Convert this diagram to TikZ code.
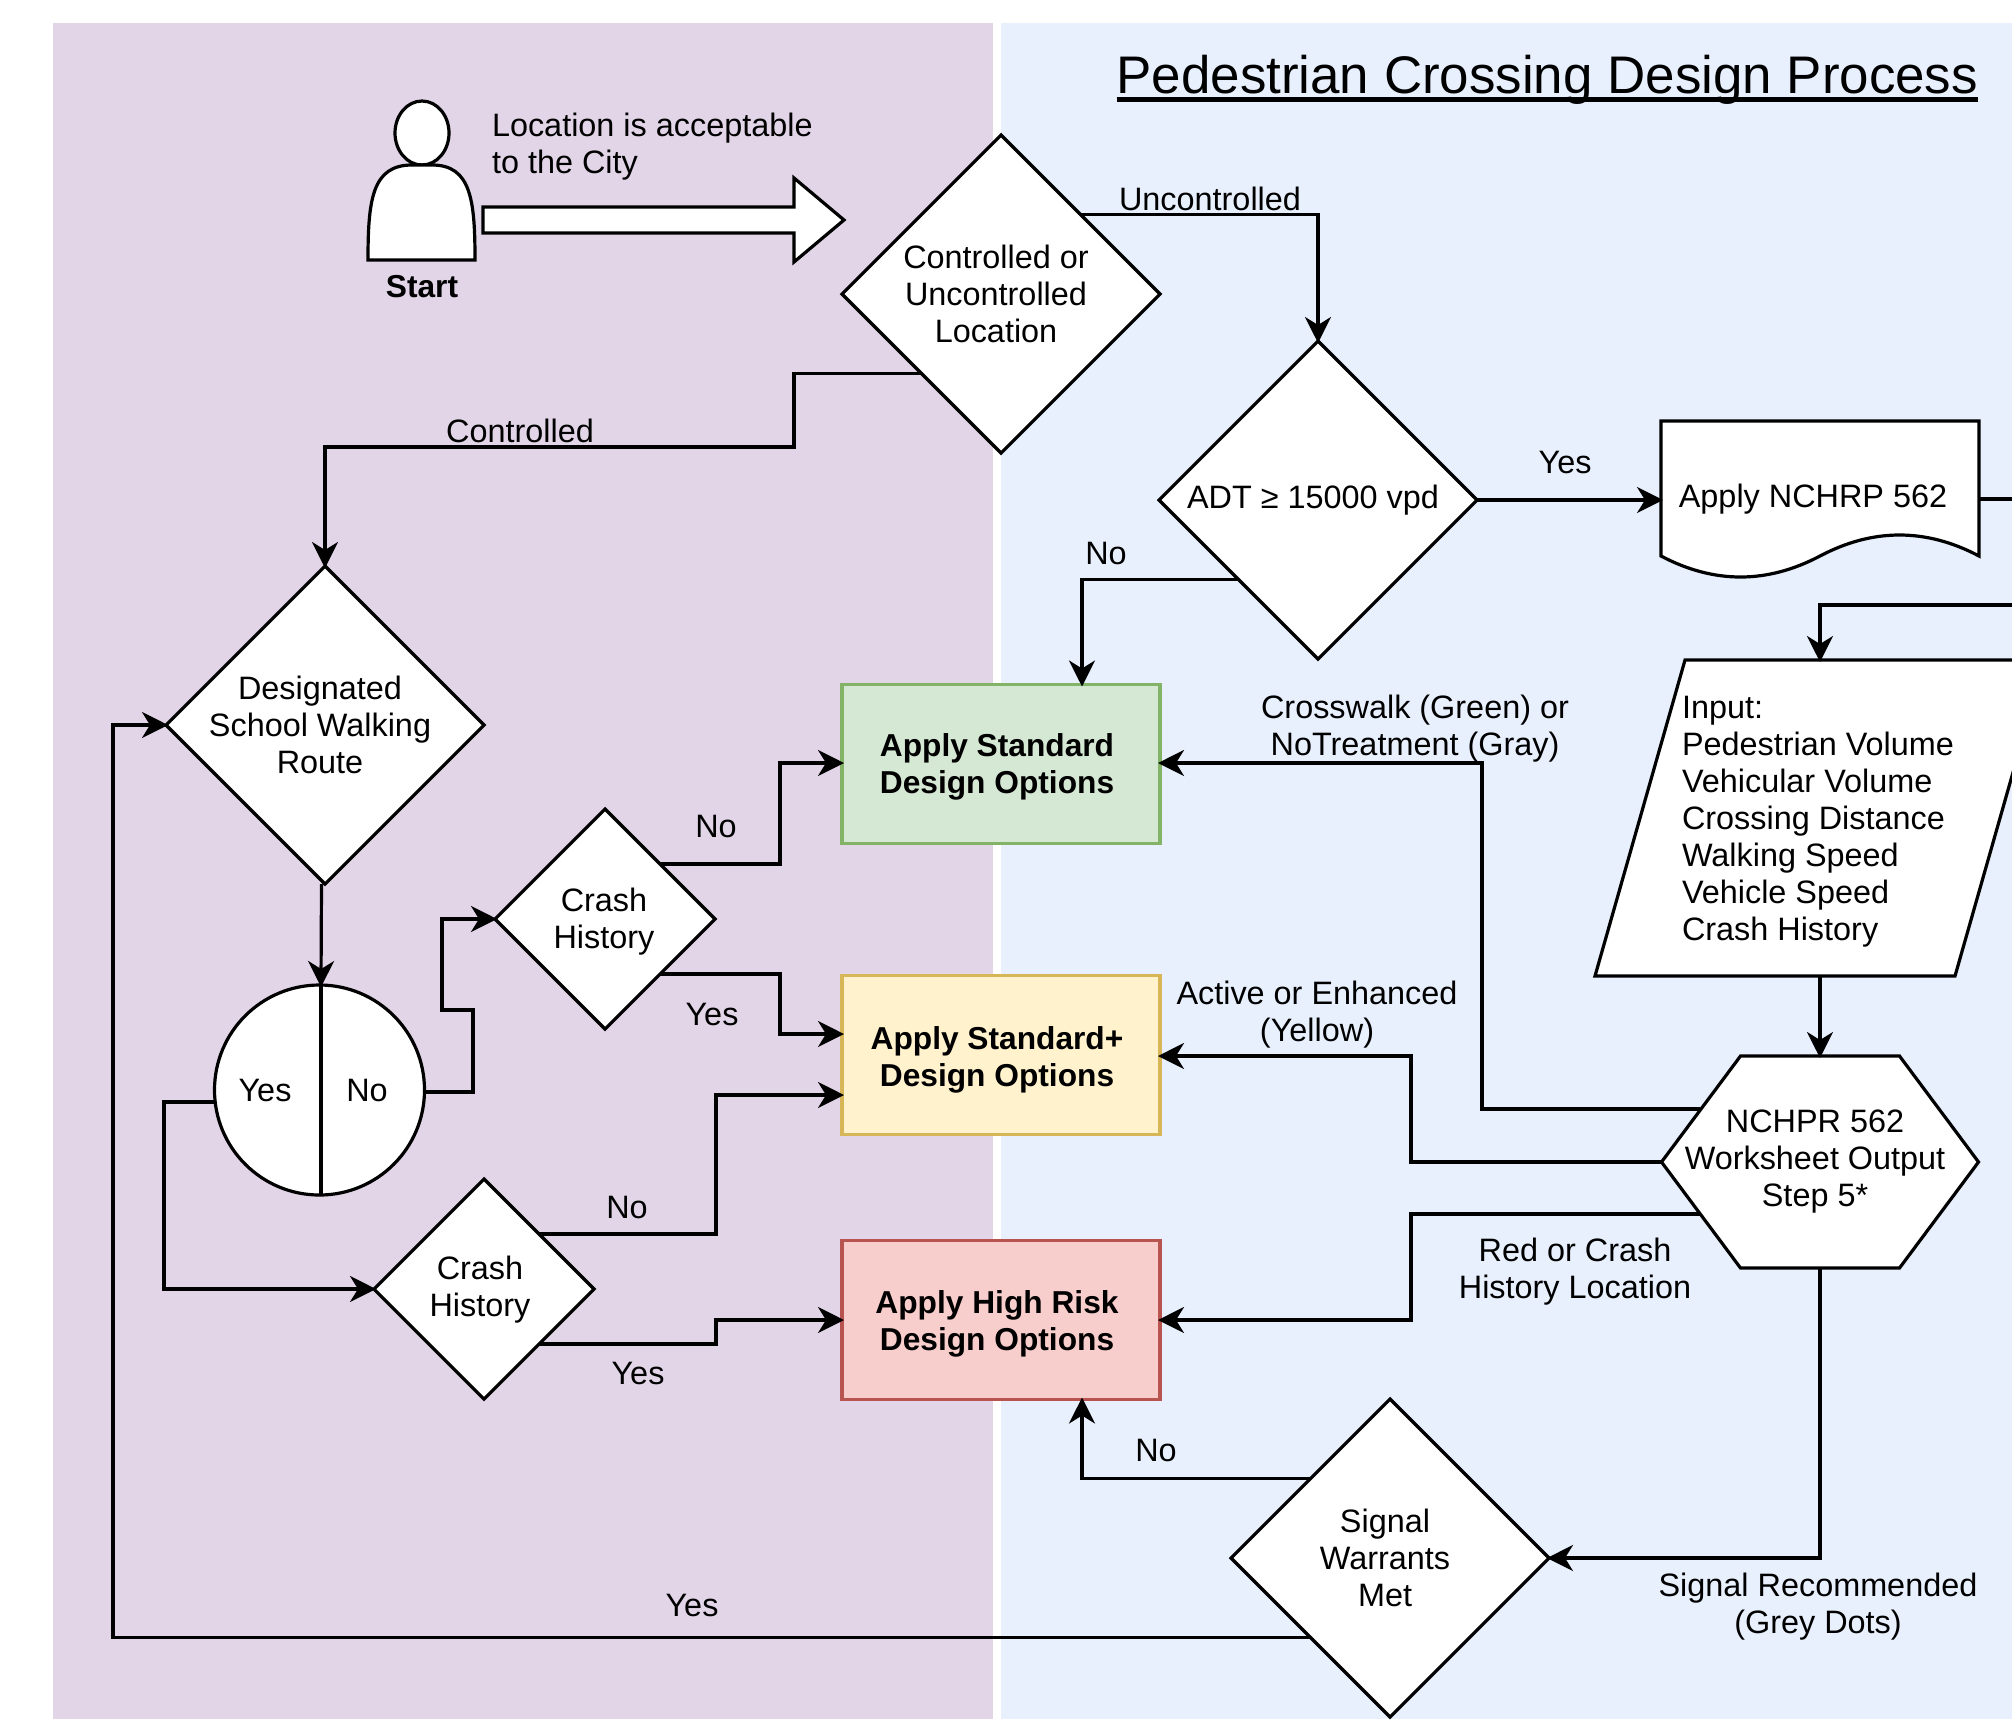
\documentclass[tikz,border=0pt]{standalone}
\usepackage{fontspec}
\setmainfont{Liberation Sans}
\usetikzlibrary{shapes.geometric, shapes.symbols, arrows.meta, positioning}
\definecolor{schoolbg}{HTML}{E1D5E7}
\definecolor{cityguide}{HTML}{E8F0FE}
\definecolor{stdfill}{HTML}{D5E8D4}
\definecolor{stdline}{HTML}{82B366}
\definecolor{plusfill}{HTML}{FFF2CC}
\definecolor{plusline}{HTML}{D6B656}
\definecolor{riskfill}{HTML}{F8CECC}
\definecolor{riskline}{HTML}{B85450}
\tikzset{
  txt/.style={align=center, inner sep=0pt, outer sep=0pt},
  boldtxt/.style={txt, font=\fontsize{31.7}{37}\selectfont\bfseries},
  said/.style={label={[txt, xshift=-5pt]center:#1}},
  dec/.style={draw, fill=white, diamond, inner sep=0pt, outer sep=0pt, minimum width=#1, minimum height=#1},
  choice/.style={draw, rectangle, inner sep=0pt, outer sep=0pt, minimum width=318pt, minimum height=159pt},
  flow/.style={->, shorten >=-2pt},
}
\begin{document}
\begin{tikzpicture}[>={Stealth[length=26pt, width=26pt, inset=8pt]}, x=1pt, y=-1pt, line width=3.2pt, font=\fontsize{32.4}{37}\selectfont]
\useasboundingbox (0,0) rectangle (2012,1719);
\fill[schoolbg] (53,23) rectangle (993,1719);
\fill[cityguide] (1001,23) rectangle (2012,1719);
\node[txt, anchor=base east, font=\fontsize{52.9}{60}\selectfont] (title) at (1978,93) {Pedestrian Crossing Design Process};
\draw[line width=5pt] (title.base west |- 0,99) -- (title.base east |- 0,99);
%
\node[draw, fill=white, ellipse, inner sep=0pt, outer sep=0pt, minimum width=54pt, minimum height=64pt] (head) at (422,133) {};
\draw[fill=white] (368,260) .. controls (368,200) and (372,165) .. (412,165) -- (432,165) .. controls (471,165) and (475,200) .. (475,260) -- cycle;
\node[boldtxt] (start) at (422,287) {Start};
\draw[fill=white] (483,207) -- (794,207) -- (794,178) -- (844,220) -- (794,262) -- (794,233) -- (483,233) -- cycle;
\node[txt, align=left, anchor=west] (accept) at (492,147) {Location is acceptable\\to the City};
%
\node[dec=318pt, said={Controlled or\\Uncontrolled\\Location}] (ctrl) at (1001,294) {};
\node[dec=318pt, said={ADT ≥ 15000 vpd}] (adt) at (1318,500) {};
\node[dec=318pt, said={Designated\\School Walking\\Route}] (route) at (325,725) {};
\node[dec=220pt, label={[txt, xshift=-1pt, yshift=-3pt]center:Crash\\History}] (crash a) at (605,919) {};
\node[dec=220pt, label={[txt, xshift=-4pt, yshift=-1pt]center:Crash\\History}] (crash b) at (484,1289) {};
\node[dec=318pt, said={Signal\\Warrants\\Met}] (warrant) at (1390,1558) {};
%
\node[choice, draw=stdline, fill=stdfill] (std) at (1001,764) {};
\node[choice, draw=plusline, fill=plusfill] (plus) at (1001,1055) {};
\node[choice, draw=riskline, fill=riskfill] (risk) at (1001,1320) {};
\node[boldtxt] (std text) at (997,767) {Apply Standard\\Design Options};
\node[boldtxt] (plus text) at (997,1060) {Apply Standard+\\Design Options};
\node[boldtxt] (risk text) at (997,1324) {Apply High Risk\\Design Options};
%
\node[draw, fill=white, circle, inner sep=0pt, outer sep=0pt, minimum size=210pt] (walk) at (319.5,1090) {};
\draw ([xshift=1.5pt]walk.north) -- ([xshift=1.5pt]walk.south);
\node[txt] (walk yes) at (265,1090) {Yes};
\node[txt] (walk no) at (367,1090) {No};
%
\node[inner sep=0pt, outer sep=0pt, minimum width=318pt, minimum height=135pt] (doc) at (1820,488.5) {};
\draw[fill=white] (doc.south west) -- (doc.north west) -- (doc.north east) -- (doc.south east) .. controls (1926,528) and (1873,528) .. (1820,556) .. controls (1767,584) and (1714,584) .. (doc.south west) -- cycle;
\node[txt] (doc text) at (1813,499) {Apply NCHRP 562};
\node[inner sep=0pt, outer sep=0pt, minimum width=450pt, minimum height=316pt] (inputs) at (1820,818) {};
\draw[fill=white] (inputs.south west) -- (1685,660) -- (inputs.north east) -- (1955,976) -- cycle;
\node[txt, align=left, anchor=west] (inputs text) at (1682,822) {Input:\\Pedestrian Volume\\Vehicular Volume\\Crossing Distance\\Walking Speed\\Vehicle Speed\\Crash History};
\node[draw, fill=white, signal, signal to=east and west, signal pointer angle=106.6, inner sep=0pt, outer sep=0pt, minimum width=317pt, minimum height=212pt, said={NCHPR 562\\Worksheet Output\\Step 5*}] (hex) at (1820,1162) {};
\coordinate (doc out) at (2012,499);
\coordinate (inputs in) at (2012,605);
%
\draw[flow] (ctrl.north east) -| (adt.north);
\draw[flow] (ctrl.south west) -| (794,447) -| (route.north);
\draw[flow] (adt.east) -- (doc.west |- adt.east);
\draw (doc.east |- doc out) -- (doc out);
\draw[flow] (adt.south west) -| (std.north -| 1082,0);
\draw[flow] (inputs in) -| (hex.north |- inputs.north);
\draw[flow] (inputs.south -| hex.north) -- (hex.north);
\draw[flow] (route.south -| 321.5,0) -- ([xshift=1.5pt]walk.north);
\draw[flow] ([yshift=-2pt]walk.east) -| (473,1010) -| (442,919) -- (crash a.west);
\draw[flow] ([yshift=-12pt]walk.west) -- (164,1102) |- (crash b.west);
\draw[flow] (crash a.north east) -| (780,763) -- (std.west |- 0,763);
\draw[flow] (crash a.south east) -| (780,1034) -- (plus.west |- 0,1034);
\draw[flow] (crash b.north east) -| (716,1095) -- (plus.west |- 0,1095);
\draw[flow] (crash b.south east) -| (716,1320) -- (risk.west);
\draw[flow] ([xshift=38pt,yshift=53pt]hex.west) -| (1482,763) -- (std.east |- 0,763);
\draw[flow] (hex.west) -| (1411,1056) -- (plus.east |- 0,1056);
\draw[flow] ([xshift=38pt,yshift=-52pt]hex.west) -| (1411,1320) -- (risk.east);
\draw[flow] (hex.south) |- (warrant.east);
\draw[flow] (warrant.north west) -| (risk.south -| 1082,0);
\draw[flow] (warrant.south west) -| (113,725) -- (route.west);
%
\node[txt] (lbl uncontrolled) at (1210,199) {Uncontrolled};
\node[txt] (lbl controlled) at (520,431) {Controlled};
\node[txt] (lbl adt yes) at (1565,463) {Yes};
\node[txt] (lbl adt no) at (1106,554) {No};
\node[txt] (lbl a no) at (716,826) {No};
\node[txt] (lbl a yes) at (712,1014) {Yes};
\node[txt] (lbl b no) at (627,1207) {No};
\node[txt] (lbl b yes) at (638,1373) {Yes};
\node[txt] (lbl green) at (1415,729) {Crosswalk (Green) or\\NoTreatment (Gray)};
\node[txt] (lbl yellow) at (1317,1015) {Active or Enhanced\\(Yellow)};
\node[txt] (lbl red) at (1575,1272) {Red or Crash\\History Location};
\node[txt] (lbl signal) at (1818,1607) {Signal Recommended\\(Grey Dots)};
\node[txt] (lbl warrant no) at (1156,1450) {No};
\node[txt] (lbl warrant yes) at (692,1605) {Yes};
\end{tikzpicture}
\end{document}
